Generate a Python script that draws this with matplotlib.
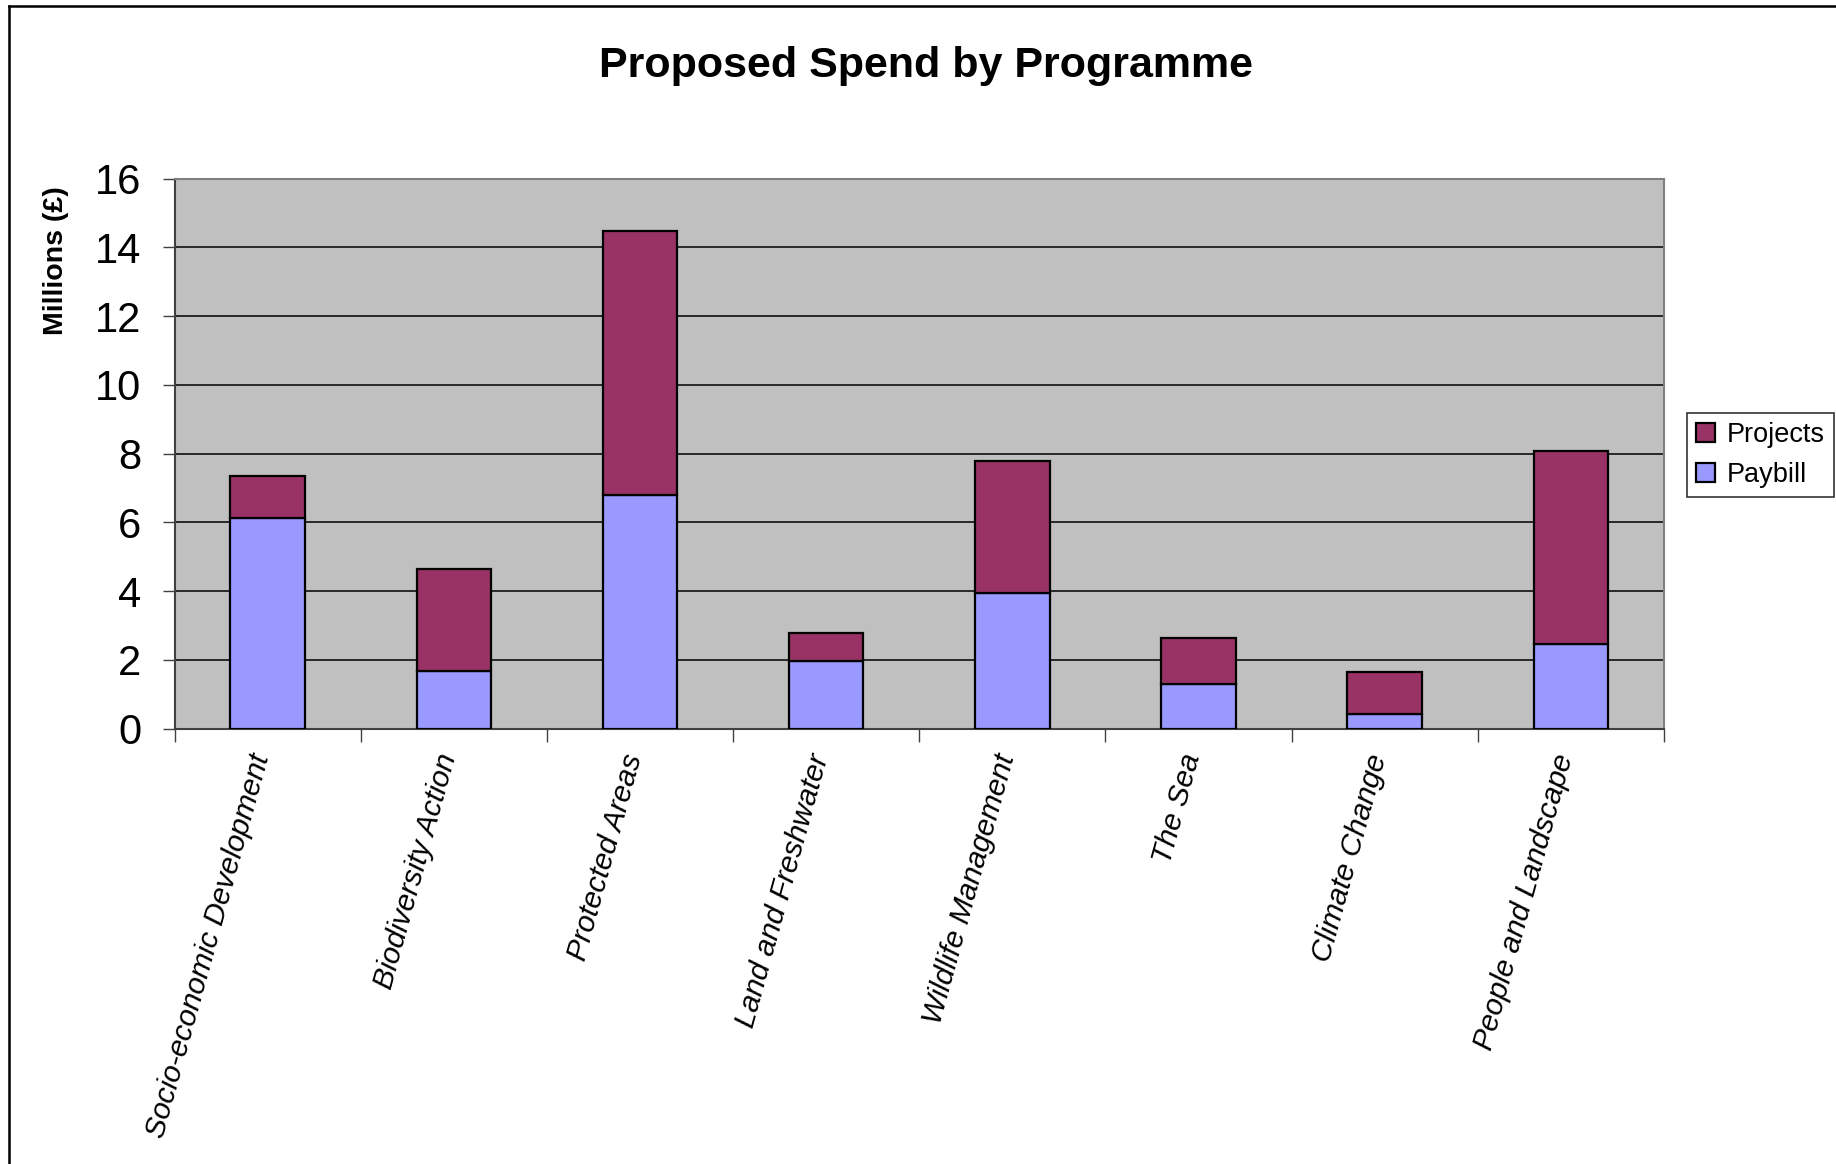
import matplotlib
matplotlib.use("Agg")
import matplotlib.pyplot as plt
from matplotlib.lines import Line2D
import numpy as np

plt.rcParams['font.family'] = ['Liberation Sans Narrow', 'Liberation Sans', 'DejaVu Sans']

categories = ["Socio-economic Development", "Biodiversity Action", "Protected Areas",
              "Land and Freshwater", "Wildlife Management", "The Sea",
              "Climate Change", "People and Landscape"]
paybill = [6.12, 1.69, 6.79, 1.97, 3.95, 1.30, 0.43, 2.46]
projects_total = [7.35, 4.64, 14.47, 2.78, 7.78, 2.64, 1.65, 8.09]
projects = [t - p for t, p in zip(projects_total, paybill)]
yticks = [0, 2, 4, 6, 8, 10, 12, 14, 16]

W, H = 1836, 1164
fig = plt.figure(figsize=(W / 100, H / 100), dpi=100)
fig.patch.set_facecolor("white")

ax = fig.add_axes([174.5 / W, 1 - 728.6 / H, (1664 - 174.5) / W, (728.6 - 178.7) / H])
ax.set_facecolor("#C0C0C0")

x = np.arange(len(categories))
ax.bar(x, paybill, width=0.4, color="#9999FF", edgecolor="black", linewidth=1.6,
       label="Paybill", zorder=3)
ax.bar(x, projects, width=0.4, bottom=paybill, color="#993366", edgecolor="black",
       linewidth=1.6, label="Projects", zorder=3)

ax.set_xlim(-0.5, len(categories) - 0.5)
ax.set_ylim(0, 16)
ax.set_yticks(yticks)
ax.set_yticklabels([str(v) for v in yticks], fontsize=30)
ax.yaxis.grid(True, color="black", linewidth=1.1, zorder=0)
ax.set_axisbelow(True)

# category boundary ticks
ax.set_xticks(np.arange(-0.5, len(categories) + 0.5, 1.0))
ax.set_xticklabels([])
ax.tick_params(axis="x", direction="out", length=9, width=1, color="#404040")
ax.tick_params(axis="y", direction="out", length=9, width=1, color="#404040", pad=15)

# category labels
for i, c in enumerate(categories):
    ax.text(i - 0.03, -0.75, c, rotation=74.5, rotation_mode="anchor", ha="right",
            va="center", fontsize=21.5, fontstyle="italic",
            transform=ax.transData, clip_on=False)

for s in ["top", "right"]:
    ax.spines[s].set_color("#808080")
    ax.spines[s].set_linewidth(1.5)
for s in ["left", "bottom"]:
    ax.spines[s].set_color("#404040")
    ax.spines[s].set_linewidth(1.5)

fig.text(0.5041, 1 - 66 / H, "Proposed Spend by Programme", ha="center", va="center",
         fontsize=31, fontweight="bold")
fig.text(56 / W, 1 - 261 / H, "Millions (£)", ha="center", va="center", rotation=90,
         fontsize=20.5, fontweight="bold")

handles, labels = ax.get_legend_handles_labels()
leg = fig.legend(handles[::-1], labels[::-1], loc="center left",
                 bbox_to_anchor=(1687 / W, 1 - 455 / H), fontsize=19.5,
                 frameon=True, fancybox=False, edgecolor="black",
                 handlelength=0.7, handleheight=0.7, handletextpad=0.4,
                 borderpad=0.35, labelspacing=0.5, borderaxespad=0)
leg.get_frame().set_linewidth(1.2)

# outer border (top and left)
fig.add_artist(Line2D([9 / W, 1], [1 - 5.5 / H, 1 - 5.5 / H], color="black", linewidth=1.8,
                      transform=fig.transFigure))
fig.add_artist(Line2D([9 / W, 9 / W], [0, 1 - 5.5 / H], color="black", linewidth=1.8,
                      transform=fig.transFigure))

fig.savefig("out.png", dpi=100, facecolor="white")
